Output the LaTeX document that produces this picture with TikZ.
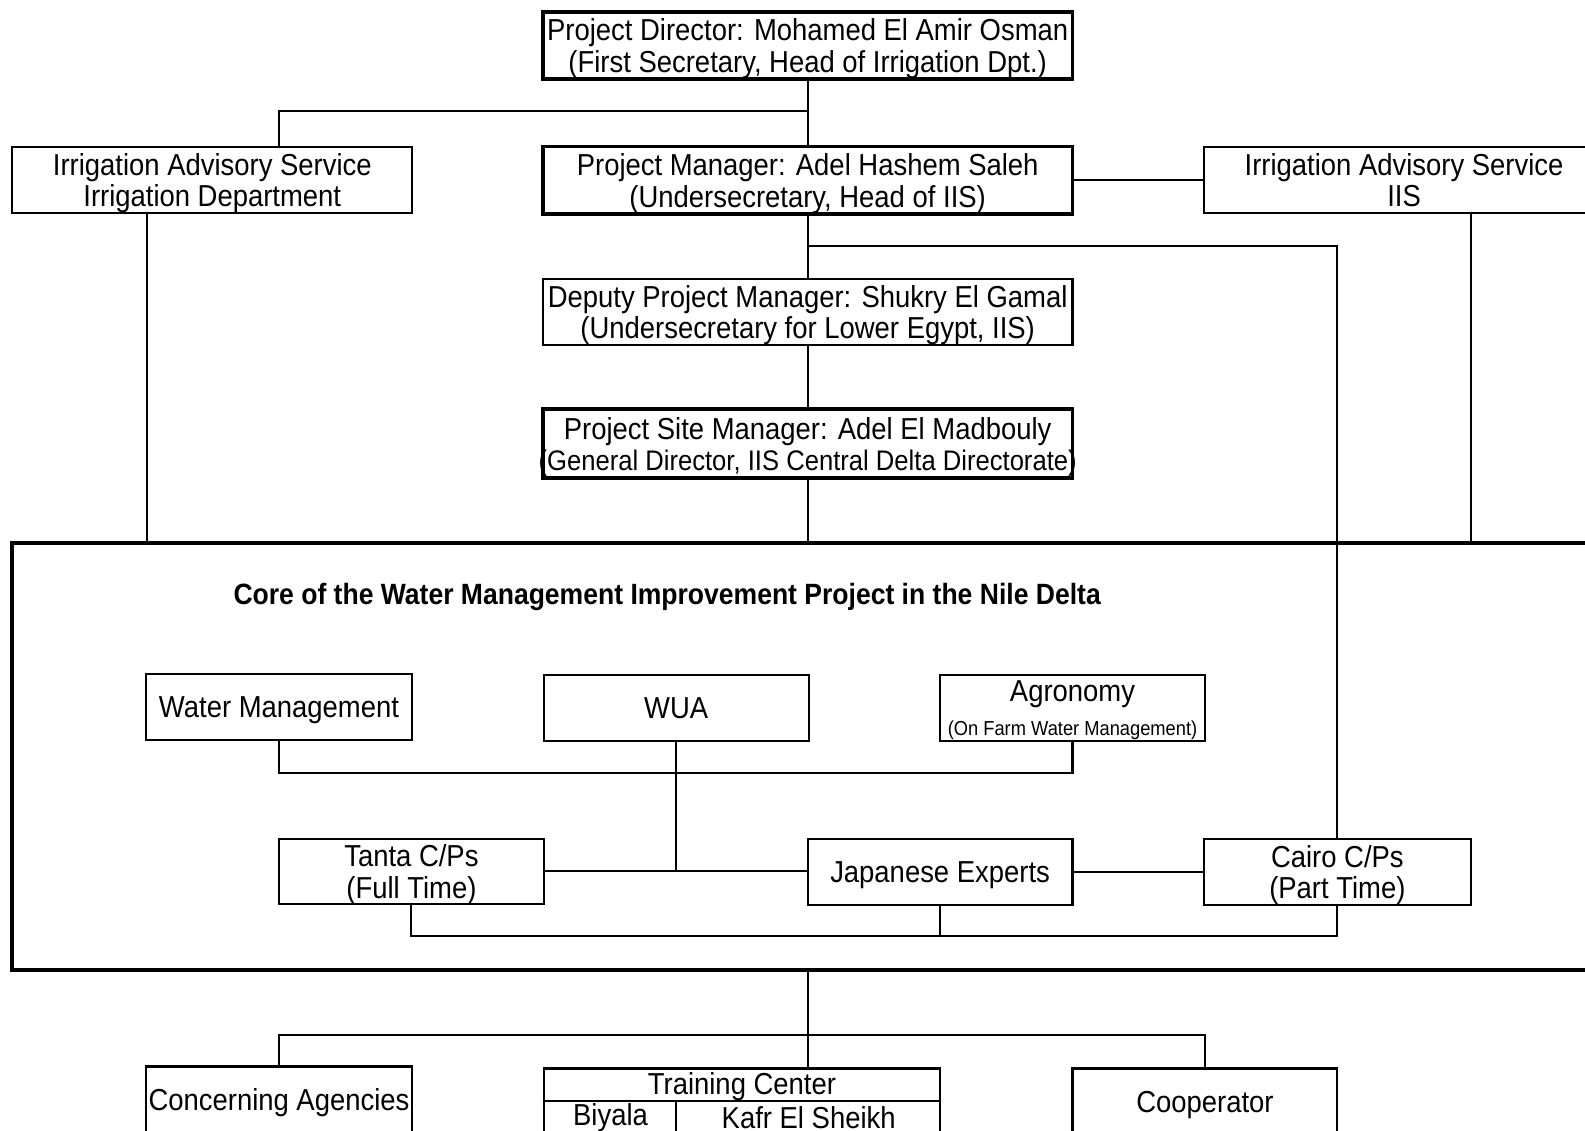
\documentclass[tikz,border=0pt]{standalone}
\usepackage{fontspec}
\setmainfont{Liberation Sans}[FakeStretch=0.905]
\begin{document}
\begin{tikzpicture}[x=1pt,y=-1pt,
    font=\fontsize{30}{31}\selectfont,
    box/.style={draw,line width=2.1pt,inner sep=0pt,align=center,text depth=0pt,
      minimum width=#1,minimum height=65pt},
    box/.default=262pt,
    headbox/.style={box=524pt,line width=3.8pt},
    link/.style={line width=2.1pt}]
  \useasboundingbox (0,0) rectangle (1568,1118);
  \node[headbox,minimum height=66pt] (dir) at (799,45)
    {Project Director: Mohamed El Amir Osman\\(First Secretary, Head of Irrigation Dpt.)};
  \node[headbox,minimum height=67pt] (pm) at (799,178.5)
    {Project Manager: Adel Hashem Saleh\\(Undersecretary, Head of IIS)};
  \node[box=396pt,minimum height=66pt] (iasl) at (210,178)
    {Irrigation Advisory Service\\Irrigation Department};
  \node[box=396pt,minimum height=66pt] (iasr) at (1389,178)
    {Irrigation Advisory Service\\IIS};
  \node[box=524pt] (dep) at (799,308.5)
    {Deputy Project Manager: Shukry El Gamal\\(Undersecretary for Lower Egypt, IIS)};
  \node[headbox,minimum height=68pt] (site) at (799,439)
    {Project Site Manager: Adel El Madbouly\\\makebox[0pt]{\fontsize{28}{31}\selectfont(General Director, IIS Central Delta Directorate)}};
  \node[draw,line width=3.8pt,minimum width=1600pt,minimum height=423pt] (core) at (812,748.5) {};
  \node[font=\fontsize{29}{29}\selectfont\bfseries] (title) at (660,591)
    {Core of the Water Management Improvement Project in the Nile Delta};
  \node[box=264pt] (wm) at (276,699.5) {Water Management};
  \node[box] (wua) at (669,700.5) {WUA};
  \node[box] (agr) at (1061,700.5)
    {Agronomy\\[2pt]{\fontsize{20}{20}\selectfont (On Farm Water Management)}};
  \node[box,minimum height=64pt] (tanta) at (407,862) {Tanta C/Ps\\(Full Time)};
  \node[box] (je) at (930,862.5) {Japanese Experts};
  \node[box=264pt] (cairo) at (1323,862.5) {Cairo C/Ps\\(Part Time)};
  \node[box=264pt,minimum height=66pt] (conc) at (276,1088) {Concerning Agencies};
  \node[box=392pt,minimum height=66pt] (train) at (734,1090) {};
  \node (trainhd) at (734,1075) {Training Center};
  \node (biyala) at (604,1106) {Biyala};
  \node (kafr) at (800,1106) {Kafr El Sheikh};
  \node[box,minimum height=66pt] (coop) at (1192,1090) {Cooperator};
  \coordinate (jdir) at (799,110);
  \coordinate (jpm) at (799,243);
  \coordinate (jcore) at (669,765);
  \coordinate (jlow) at (930,926);
  \coordinate (jbot) at (799,1024);
  \coordinate (tdiv) at (669,1089);
  \draw[link] (dir) -- (pm);
  \draw[link] (jdir) -| ([xshift=66pt]iasl.north);
  \draw[link] (pm.east) -- (pm.east -| iasr.west);
  \draw[link] ([xshift=-65pt]iasl.south) -- ([xshift=-65pt]iasl.south |- core.north);
  \draw[link] ([xshift=66pt]iasr.south) -- ([xshift=66pt]iasr.south |- core.north);
  \draw[link] (pm) -- (dep);
  \draw[link] (dep) -- (site);
  \draw[link] (site.south) -- (site.south |- core.north);
  \draw[link] (jpm) -| (cairo.north);
  \draw[link] (wm.south) |- (jcore) -| (agr.south);
  \draw[link] (wua.south) -- (wua.south |- tanta.east);
  \draw[link] (tanta.east) -- (tanta.east -| je.west);
  \draw[link] (je.east) -- (je.east -| cairo.west);
  \draw[link] (tanta.south) |- (jlow) -| (cairo.south);
  \draw[link] (je.south) -- (jlow);
  \draw[link] (site.south |- core.south) -- (site.south |- train.north);
  \draw[link] (conc.north) |- (jbot) -| (coop.north);
  \draw[link] (train.west |- tdiv) -- (train.east |- tdiv);
  \draw[link] (tdiv) -- (tdiv |- train.south);
\end{tikzpicture}
\end{document}
